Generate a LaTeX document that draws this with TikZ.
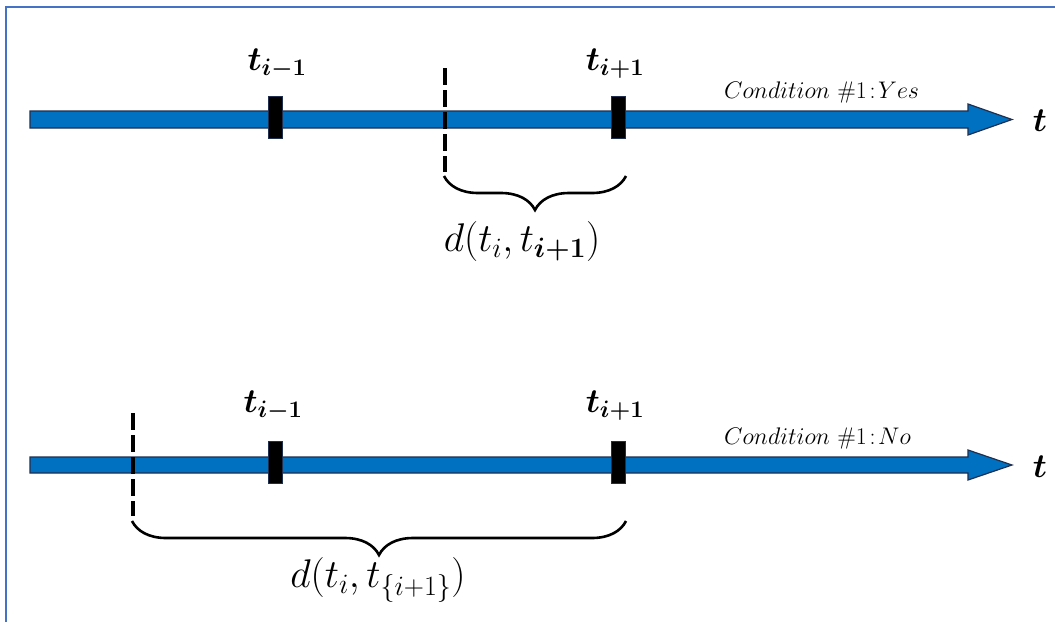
\RequirePackage{fix-cm}
\documentclass[tikz,border=0pt]{standalone}
\usepackage{amsmath,bm}
\usetikzlibrary{decorations.pathreplacing}
\definecolor{axisblue}{HTML}{0070C0}
\definecolor{axisedge}{HTML}{1F2F4F}
\definecolor{frameblue}{HTML}{4472C4}
\begin{document}
\begin{tikzpicture}[x=1pt,y=-1pt,
  tickbox/.style={draw=axisedge,fill=black,minimum width=14pt,minimum height=42pt,inner sep=0pt,line width=0.6pt},
  biglbl/.style={font=\fontsize{34}{36}\selectfont,inner sep=0pt},
  distlbl/.style={font=\fontsize{40}{42}\selectfont,inner sep=0pt},
  condlbl/.style={font=\fontsize{24}{26}\selectfont,inner sep=0pt,anchor=west},
  axisarrow/.style={fill=axisblue,draw=axisedge,line width=1.2pt,line join=miter},
  dashline/.style={line width=4.5pt,dash pattern=on 17pt off 5pt},
  bracestyle/.style={decorate,decoration={brace,mirror,amplitude=34pt,aspect=0.5},line width=2.6pt}]
\useasboundingbox (0,0) rectangle (1055,622);
\fill[white] (0,0) rectangle (1055,622);
\draw[frameblue,line width=2pt] (6,622) -- (6,7) -- (1055,7);

% ---------- top timeline ----------
\draw[axisarrow] (30,111) -- (968,111) -- (968,104) -- (1012,119.5) -- (968,135) -- (968,128) -- (30,128) -- cycle;
\node[biglbl] (tA) at (1040,121) {$\bm{t}$};
\coordinate (dAtop) at (445,68);
\coordinate (dAbot) at (445,172);
\draw[dashline] (dAtop) -- (dAbot);
\node[tickbox] (mA1) at (275,117) {};
\node[tickbox] (mA2) at (618,117) {};
\node[biglbl] (lA1) at (277,64) {$\bm{t_{i-1}}$};
\node[biglbl] (lA2) at (615,64) {$\bm{t_{i+1}}$};
\node[condlbl] (cA) at (724,92) {$Condition\ \#1\!:\!Yes$};
\coordinate (bAl) at (444,176);
\coordinate (bAr) at (626,176);
\draw[bracestyle] (bAl) -- (bAr);
\node[distlbl] (dA) at (522,241) {$d(t_i,t_{\bm{i+1}})$};

% ---------- bottom timeline ----------
\draw[axisarrow] (30,457) -- (968,457) -- (968,450) -- (1012,465) -- (968,480) -- (968,473) -- (30,473) -- cycle;
\node[biglbl] (tB) at (1040,467) {$\bm{t}$};
\coordinate (dBtop) at (133,413);
\coordinate (dBbot) at (133,516);
\draw[dashline] (dBtop) -- (dBbot);
\node[tickbox] (mB1) at (275,462) {};
\node[tickbox] (mB2) at (618,462) {};
\node[biglbl] (lB1) at (273,406) {$\bm{t_{i-1}}$};
\node[biglbl] (lB2) at (615,406) {$\bm{t_{i+1}}$};
\node[condlbl] (cB) at (724,438) {$Condition\ \#1\!:\!No$};
\coordinate (bBl) at (132,521);
\coordinate (bBr) at (626,521);
\draw[bracestyle] (bBl) -- (bBr);
\node[distlbl] (dB) at (378,580) {$d(t_i,t_{\{i+1\}})$};
\end{tikzpicture}
\end{document}
